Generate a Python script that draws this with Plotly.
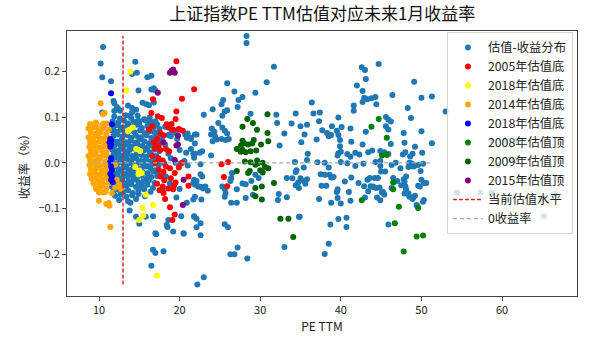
import plotly.graph_objects as go

# ---------------- data (PE TTM, next-1-month return) ----------------
blue_points = [
    # dense core
    (11.9,0.101),(12.6,0.097),(13.3,0.104),(14.0,0.098),(14.8,0.103),(15.6,0.095),(16.3,0.099),
    (11.7,0.091),(12.4,0.088),(13.1,0.092),(13.6,0.086),(14.3,0.090),(15.0,0.087),(15.8,0.093),(16.6,0.089),(17.2,0.084),
    (11.8,0.079),(12.3,0.082),(12.9,0.077),(13.5,0.081),(14.1,0.078),(14.7,0.083),(15.3,0.076),(16.0,0.080),(16.8,0.078),(17.5,0.074),(18.2,0.079),
    (11.6,0.071),(12.1,0.068),(12.7,0.072),(13.2,0.066),(13.8,0.070),(14.4,0.067),(15.1,0.071),(15.7,0.065),(16.3,0.069),(16.9,0.066),(17.6,0.064),
    (11.8,0.059),(12.3,0.062),(12.9,0.057),(13.5,0.061),(14.0,0.055),(14.6,0.059),(15.2,0.056),(15.9,0.060),(16.5,0.054),(17.1,0.058),(17.8,0.055),(18.6,0.061),
    (11.7,0.049),(12.2,0.046),(12.8,0.050),(13.3,0.045),(13.9,0.048),(14.5,0.044),(15.0,0.051),(15.6,0.047),(16.2,0.043),(16.8,0.049),(17.4,0.045),
    (11.9,0.038),(12.5,0.041),(13.0,0.036),(13.6,0.039),(14.2,0.035),(14.8,0.040),(15.4,0.037),(16.0,0.033),(16.6,0.038),(17.2,0.035),
    (11.6,0.029),(12.2,0.026),(12.7,0.030),(13.3,0.025),(13.8,0.028),(14.4,0.031),(15.0,0.024),(15.6,0.027),(16.3,0.023),(16.9,0.029),(17.5,0.026),
    (11.8,0.018),(12.4,0.021),(12.9,0.016),(13.5,0.019),(14.1,0.015),(14.7,0.020),(15.3,0.017),(15.9,0.013),(16.5,0.018),(17.1,0.015),
    (11.7,0.008),(12.3,0.011),(12.8,0.006),(13.4,0.009),(14.0,0.005),(14.6,0.010),(15.2,0.004),(15.8,0.008),(16.4,0.003),(17.0,0.007),(17.7,0.004),
    (11.9,-0.002),(12.5,0.001),(13.1,-0.004),(13.7,-0.001),(14.3,-0.005),(14.9,0.000),(15.5,-0.003),(16.1,-0.006),(16.8,-0.002),(17.4,-0.005),(18.1,-0.001),
    (11.6,-0.012),(12.2,-0.009),(12.8,-0.014),(13.4,-0.011),(14.0,-0.015),(14.6,-0.010),(15.2,-0.013),(15.8,-0.008),(16.4,-0.012),(17.0,-0.016),
    (11.8,-0.022),(12.4,-0.019),(13.0,-0.024),(13.6,-0.021),(14.2,-0.018),(14.8,-0.025),(15.4,-0.020),(16.0,-0.023),(16.7,-0.019),(17.3,-0.024),
    (11.7,-0.032),(12.3,-0.029),(12.9,-0.034),(13.5,-0.030),(14.1,-0.027),(14.7,-0.033),(15.3,-0.028),(15.9,-0.035),(16.5,-0.031),(17.2,-0.029),
    (11.9,-0.042),(12.5,-0.039),(13.1,-0.044),(13.7,-0.040),(14.3,-0.037),(14.9,-0.043),(15.5,-0.041),(16.2,-0.038),(16.9,-0.044),
    (11.6,-0.052),(12.2,-0.049),(12.8,-0.054),(13.4,-0.050),(14.0,-0.047),(14.6,-0.053),(15.3,-0.051),(16.0,-0.048),(16.7,-0.055),
    (11.8,-0.062),(12.4,-0.059),(13.0,-0.064),(13.6,-0.060),(14.2,-0.066),(14.9,-0.061),(15.6,-0.058),(16.4,-0.063),
    (12.0,-0.072),(12.7,-0.069),(13.4,-0.074),(14.1,-0.071),(14.9,-0.068),(15.7,-0.073),
    (12.5,-0.081),(13.6,-0.084),(14.6,-0.079),
    # left-side scatter
    (10.5,0.253),(10.2,0.217),(10.4,0.187),(11.5,0.178),(14.5,0.221),(14.7,0.197),(14.1,0.194),(16.0,0.187),(16.5,0.190),
    (16.5,0.160),(16.8,0.163),(17.0,0.158),(14.9,0.158),(11.8,0.135),(11.9,0.130),(12.2,0.122),(12.4,0.118),(12.6,0.114),
    (13.6,0.125),(14.1,0.120),(14.6,0.116),(15.4,0.131),(15.9,0.128),(16.8,0.132),(16.2,0.126),(13.8,0.103),(14.1,0.110),
    (14.9,0.092),(15.7,0.094),(16.1,0.088),(17.0,0.091),(10.4,0.110),(11.9,0.113),
    (19.0,0.070),(19.5,0.065),(20.0,0.072),(18.9,0.058),(19.7,0.052),(20.7,0.062),(21.4,0.055),(21.9,0.062),
    (20.0,0.028),(20.8,0.022),(21.4,0.030),(21.9,0.020),(19.5,0.000),(20.1,-0.002),(20.6,0.004),(21.0,-0.006),
    (21.9,-0.048),(22.4,-0.052),(22.9,-0.056),(21.7,-0.080),(20.9,-0.087),(21.8,-0.117),(22.1,-0.122),
    (19.2,-0.150),(20.5,-0.154),(18.4,-0.136),(17.0,-0.154),(16.7,-0.190),(17.0,-0.197),(18.0,-0.193),(16.5,-0.225),
    (22.2,-0.266),(23.0,-0.250),(13.8,-0.104),(13.9,-0.087),(14.6,-0.118),(15.0,-0.133),(15.8,-0.118),(16.7,-0.117),
    (17.1,-0.156),(18.5,-0.140),(18.6,-0.125),(19.6,-0.076),(20.0,-0.057),(18.3,-0.030),(18.8,-0.045),(17.9,-0.060),
    (18.6,0.020),(18.2,0.040),(18.9,0.010),
    # PE 20-35
    (28.3,0.277),(28.3,0.262),(31.7,0.210),(25.9,0.174),(30.8,0.176),(26.8,0.156),(29.4,0.153),(25.4,0.137),(27.3,0.137),
    (27.8,0.144),(25.2,0.128),(27.2,0.122),(24.1,0.117),(25.9,0.115),(25.6,0.112),(23.0,0.105),(25.3,0.103),(28.8,0.107),
    (32.0,0.105),(24.8,0.087),(32.1,0.087),(33.9,0.086),
    (24.0,0.075),(24.3,0.068),(23.9,0.062),(24.4,0.058),(25.3,0.077),(25.6,0.070),(25.9,0.064),(25.2,0.052),(25.7,0.050),
    (26.1,0.052),(24.1,0.047),(24.6,0.051),(21.0,0.064),(22.1,0.062),(20.9,0.055),(21.4,0.052),(21.9,0.042),
    (33.0,0.064),(32.4,0.038),(23.9,0.016),(22.8,0.025),(22.5,0.022),(21.7,0.020),(21.8,0.011),(22.6,-0.003),(22.6,-0.025),
    (22.8,-0.030),(21.8,-0.037),(21.7,-0.044),(22.1,-0.040),(22.3,-0.052),(22.7,-0.053),(23.2,-0.052),(23.5,-0.061),
    (25.3,-0.052),(25.6,-0.057),(26.4,-0.033),(26.3,-0.040),(26.5,-0.022),(27.1,-0.058),(27.8,-0.045),(28.2,-0.047),
    (28.9,-0.040),(29.4,-0.026),(29.8,-0.033),(28.2,-0.077),(29.1,-0.070),(25.6,-0.074),(25.7,-0.066),(21.9,-0.074),
    (22.7,-0.080),(26.4,-0.087),(27.1,-0.087),(32.2,-0.081),(32.3,-0.068),(20.2,-0.117),(21.8,-0.118),(22.6,-0.132),
    (22.1,-0.141),(22.6,-0.158),(20.5,-0.155),(25.6,-0.134),(26.0,-0.141),(33.3,-0.075),(34.8,-0.118),(33.0,-0.184),
    (27.2,-0.185),(26.8,-0.200),(26.3,-0.200),(28.4,-0.209),(33.3,-0.033),(34.5,-0.016),
    # PE 34-50
    (44.7,0.216),(42.6,0.209),(43.0,0.203),(43.1,0.183),(49.1,0.177),(42.0,0.169),(42.7,0.157),(46.4,0.148),(42.9,0.142),
    (43.3,0.139),(43.8,0.141),(44.3,0.144),(42.7,0.133),(44.4,0.128),(41.6,0.125),(41.6,0.114),(36.4,0.132),(48.3,0.120),
    (34.4,0.108),(36.6,0.108),(37.4,0.110),(45.6,0.100),(45.9,0.094),(46.2,0.090),(37.3,0.091),(39.7,0.099),(35.8,0.083),
    (35.0,0.080),(38.9,0.080),(40.1,0.078),(41.2,0.075),(45.6,0.080),(45.9,0.073),(37.7,0.071),(38.3,0.065),(39.5,0.070),
    (43.1,0.068),(35.5,0.062),(47.8,0.065),(38.5,0.058),(38.8,0.061),(39.7,0.061),(35.1,0.045),(37.0,0.051),(39.9,0.050),
    (41.3,0.046),(39.9,0.036),(42.7,0.040),(46.2,0.041),(47.9,0.044),(49.2,0.035),(35.9,0.020),(35.8,0.006),(39.7,0.021),
    (40.0,0.024),(39.6,0.016),(40.8,0.019),(41.2,0.013),(41.8,0.022),(42.3,0.018),(43.4,0.023),(43.9,0.027),(44.9,0.026),
    (45.4,0.023),(45.9,0.019),(47.7,0.018),(48.0,0.023),(44.9,0.004),(44.3,0.002),(44.9,-0.007),(34.3,0.002),(35.4,-0.010),
    (37.1,0.001),(38.0,0.000),(38.5,-0.010),(40.0,0.002),(40.8,-0.001),(41.8,-0.007),(42.8,-0.002),(46.3,-0.005),
    (46.8,0.000),(48.7,-0.001),(49.1,-0.007),(49.6,-0.005),
    (34.4,-0.020),(35.0,-0.034),(34.0,-0.034),(34.7,-0.043),(35.4,-0.040),(35.6,-0.046),(35.8,-0.036),(34.4,-0.049),(34.8,-0.055),
    (37.5,-0.025),(38.0,-0.026),(38.6,-0.026),(38.8,-0.032),(39.1,-0.031),(37.6,-0.050),(38.2,-0.050),
    (40.5,-0.041),(41.3,-0.032),(42.2,-0.044),(42.9,-0.051),(43.3,-0.037),(43.6,-0.033),(43.7,-0.051),(44.0,-0.053),
    (44.4,-0.055),(44.8,-0.054),(44.2,-0.033),(44.6,-0.033),(45.0,-0.019),(45.5,-0.019),
    (45.1,-0.065),(45.4,-0.069),(44.5,-0.076),(44.9,-0.082),(45.2,-0.063),
    (46.5,-0.033),(47.0,-0.040),(47.8,-0.036),(47.5,-0.049),(48.0,-0.051),(47.9,-0.067),(48.5,-0.074),(49.2,-0.072),
    (39.6,-0.058),(39.5,-0.064),(41.0,-0.064),(39.6,-0.077),(41.2,-0.083),(43.0,-0.076),(43.4,-0.062),(37.3,-0.079),
    (38.8,-0.087),(40.0,-0.089),(44.0,-0.052),(46.3,-0.055),(49.0,-0.076),(39.7,-0.123),(40.7,-0.120),(38.7,-0.135),
    (40.7,-0.140),(45.9,-0.135),(38.5,-0.177),(38.0,-0.199),(34.9,-0.118),(49.4,-0.092),
    # PE 47-52
    (50.0,0.142),(51.3,0.145),(48.7,0.098),(50.0,0.069),(51.3,0.043),(48.9,0.020),(48.6,0.014),(50.1,0.022),(48.5,0.000),
    (48.9,-0.003),(49.0,-0.008),(48.4,-0.009),(50.2,-0.002),(47.4,-0.012),(48.1,-0.030),(47.9,-0.041),(49.9,-0.018),
    (50.0,-0.037),(50.3,-0.044),(50.6,-0.044),(49.6,-0.050),(48.1,-0.058),(48.4,-0.067),(49.8,-0.052),(48.9,-0.079),
    (50.3,-0.081),(50.2,-0.085),(49.5,-0.095),
    # high PE (mostly behind legend)
    (53.0,0.112),(58.7,0.048),(60.4,0.048),(61.8,0.048),(60.8,0.006),(61.6,0.006),(59.5,-0.005),(54.4,-0.065),
    (57.3,-0.065),(58.7,-0.065),(66.6,-0.068),(64.9,-0.079),(65.2,-0.117),
]

red_2005 = [
    (19.6,0.222),(21.8,0.161),(20.3,0.140),(16.7,0.139),(19.6,0.112),(19.5,0.096),(16.5,0.109),(17.8,0.098),(17.3,0.102),
    (18.4,0.084),(19.0,0.085),(18.6,0.077),(19.2,0.072),(19.9,0.074),(20.4,0.070),(17.6,0.065),(18.0,0.060),(16.2,0.072),
    (16.6,0.080),(16.8,0.045),(17.4,0.038),(16.9,0.032),(17.6,0.028),(18.3,0.030),(18.7,0.025),(17.2,0.052),
    (16.6,0.015),(17.4,0.010),(17.0,0.000),(17.9,0.005),(18.3,-0.008),(17.4,-0.015),(18.0,-0.020),(18.8,-0.012),
    (19.4,-0.022),(19.9,-0.010),(20.3,0.000),(17.6,-0.030),(18.1,-0.038),(18.9,-0.034),(19.5,-0.043),(17.2,-0.046),
    (17.9,-0.052),(18.6,-0.056),(19.3,-0.050),(17.5,-0.060),(18.0,-0.066),(19.2,-0.058),(18.2,-0.079),(18.8,-0.097),
    (19.4,-0.113),(19.1,-0.125),(21.1,-0.030),(21.1,-0.050),(25.2,-0.003),(26.0,0.002),(25.5,-0.031),(25.9,-0.051),
]

yellow_2018 = [
    (13.9,0.199),(13.4,0.158),(13.8,0.073),(14.2,0.077),(13.6,0.069),(14.6,0.030),(15.1,0.026),(14.5,-0.009),
    (15.0,-0.017),(15.3,-0.022),(14.9,-0.025),(15.8,-0.070),(16.7,-0.092),(15.4,-0.099),(15.5,-0.115),(15.0,-0.125),
    (17.2,-0.246),
]

orange_2014 = [
    (10.2,0.130),(10.7,0.109),(10.5,0.106),(9.6,0.088),(10.6,0.086),
    (8.9,0.085),(9.6,0.084),(10.4,0.083),(11.0,0.086),
    (8.7,0.075),(9.3,0.077),(9.9,0.074),(10.6,0.076),(11.2,0.073),
    (9.0,0.066),(9.6,0.064),(10.2,0.067),(10.9,0.063),
    (8.7,0.056),(9.3,0.054),(9.9,0.057),(10.5,0.053),(11.1,0.055),
    (8.9,0.046),(9.5,0.044),(10.1,0.047),(10.8,0.043),
    (8.8,0.035),(9.4,0.037),(10.0,0.034),(10.6,0.036),(11.2,0.033),
    (9.0,0.026),(9.6,0.024),(10.3,0.027),(10.9,0.023),
    (8.7,0.015),(9.3,0.017),(9.9,0.014),(10.5,0.016),(11.1,0.013),
    (8.9,0.006),(9.5,0.004),(10.1,0.007),(10.8,0.003),
    (8.8,-0.005),(9.4,-0.003),(10.0,-0.006),(10.6,-0.004),(11.2,-0.007),(12.0,-0.004),
    (9.0,-0.015),(9.6,-0.013),(10.3,-0.016),(10.9,-0.014),
    (8.9,-0.025),(9.5,-0.023),(10.1,-0.026),(10.7,-0.024),(11.3,-0.027),
    (9.1,-0.035),(9.7,-0.033),(10.4,-0.036),(11.0,-0.034),(12.2,-0.037),
    (9.3,-0.045),(9.9,-0.043),(10.5,-0.046),(11.2,-0.044),(12.5,-0.047),
    (9.6,-0.055),(10.2,-0.053),(10.9,-0.056),(12.0,-0.054),(12.7,-0.057),
    (10.0,-0.065),(10.8,-0.064),(11.6,-0.066),
    (9.7,-0.058),(10.5,-0.065),(10.0,-0.083),(10.9,-0.090),(11.3,-0.094),(11.2,-0.088),(11.4,-0.140),
]

blue_2018 = [
    (11.5,0.152),(11.6,0.084),(11.4,0.052),(11.3,0.045),(11.5,0.040),(11.4,0.035),(11.5,0.048),(11.5,0.010),
    (11.4,0.002),(11.5,-0.008),(11.6,-0.016),(11.4,-0.024),(11.6,-0.030),(11.5,-0.037),(11.7,-0.042),
]

green_2008 = [
    (44.7,0.096),(43.8,0.079),(45.7,0.055),(45.1,0.016),(45.7,0.017),(46.5,-0.043),(46.5,-0.058),(42.6,-0.082),
    (47.2,-0.096),(46.7,-0.132),(49.4,-0.161),(50.2,-0.159),(47.8,-0.194),(49.6,-0.099),
]

darkgreen_2009 = [
    (30.9,0.106),(28.4,0.096),(29.1,0.087),(27.8,0.079),(29.6,0.072),(30.9,0.065),(29.2,0.050),(31.0,0.047),(27.8,0.048),
    (28.0,0.043),(28.5,0.040),(27.6,0.038),(29.0,0.042),(30.1,0.040),(27.1,0.030),(27.8,0.028),(27.6,0.024),(28.2,0.023),
    (28.8,0.025),(29.5,0.027),(28.1,0.003),(28.8,0.001),(29.6,0.005),(29.7,-0.001),(30.3,0.000),(29.4,-0.004),
    (30.6,-0.009),(31.0,-0.012),(30.0,-0.016),(30.3,-0.021),(27.1,-0.018),(28.5,-0.022),(28.7,-0.018),(31.7,-0.044),
    (29.4,-0.055),(30.2,-0.052),(29.4,-0.073),(30.2,-0.080),(32.5,-0.122),(33.5,-0.122),(34.1,-0.162),
]

purple_2015 = [
    (19.0,0.201),(19.4,0.197),(18.8,0.197),(19.2,0.204),(17.3,0.153),(19.8,0.059),(18.0,0.045),(19.8,0.040),
    (19.6,0.038),(19.4,0.006),(20.5,-0.037),(20.4,-0.092),
]

current_pe = 12.98
zero_line_pe = [8.9, 51.3]

series = [
    ("估值-收益分布", blue_points, "#1f77b4"),
    ("2005年估值底", red_2005, "red"),
    ("2018年估值底", yellow_2018, "yellow"),
    ("2014年估值底", orange_2014, "orange"),
    ("2018年估值底", blue_2018, "blue"),
    ("2008年估值顶", green_2008, "green"),
    ("2009年估值顶", darkgreen_2009, "darkgreen"),
    ("2015年估值顶", purple_2015, "purple"),
]

all_ret = [p[1] for _, pts, _ in series for p in pts]

fig = go.Figure()
for name, pts, color in series:
    fig.add_trace(go.Scatter(
        x=[p[0] for p in pts], y=[p[1] for p in pts], mode="markers", name=name,
        marker=dict(color=color, size=6, line=dict(width=0)),
    ))

fig.add_trace(go.Scatter(
    x=[current_pe, current_pe], y=[min(all_ret), max(all_ret)], mode="lines", name="当前估值水平",
    line=dict(color="#d62728", width=1.5, dash="4px,2px"),
))
fig.add_trace(go.Scatter(
    x=zero_line_pe, y=[0, 0], mode="lines", name="0收益率",
    line=dict(color="#aaaaaa", width=1.2, dash="4px,3px"),
))

font_family = "Noto Sans CJK SC, DejaVu Sans, sans-serif"
fig.update_layout(
    width=608, height=342,
    margin=dict(l=67, r=31, t=31, b=39),
    paper_bgcolor="white", plot_bgcolor="white",
    font=dict(family=font_family, size=11, color="#222222"),
    title=dict(text="上证指数PE TTM估值对应未来1月收益率", x=0.53, xanchor="center",
               y=0.96, yanchor="middle", font=dict(size=17, color="#111111")),
    showlegend=True,
    legend=dict(x=0.992, y=0.996, xanchor="right", yanchor="top",
                bgcolor="rgba(255,255,255,0.8)", bordercolor="#d6d6c8", borderwidth=1,
                font=dict(size=12.3, color="#222222"), tracegroupgap=0),
)
fig.update_xaxes(
    range=[6.03, 69.3], tickmode="array", tickvals=[10, 20, 30, 40, 50, 60],
    showgrid=False, zeroline=False, showline=True, mirror=True, linecolor="#444444", linewidth=1,
    ticks="outside", ticklen=4, tickcolor="#444444", tickfont=dict(size=11),
    title=dict(text="PE TTM", font=dict(size=12), standoff=4),
)
fig.update_yaxes(
    range=[-0.291, 0.288], tickmode="array", tickvals=[-0.2, -0.1, 0.0, 0.1, 0.2], tickformat=".1f",
    showgrid=False, zeroline=False, showline=True, mirror=True, linecolor="#444444", linewidth=1,
    ticks="outside", ticklen=4, tickcolor="#444444", tickfont=dict(size=11),
    title=dict(text="收益率（%）", font=dict(size=12), standoff=6),
)

fig.write_html("out.html")
